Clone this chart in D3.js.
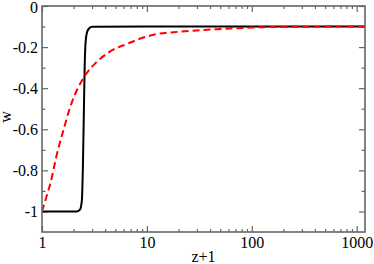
<!DOCTYPE html>
<html>
<head>
<meta charset="utf-8">
<script src="https://cdn.jsdelivr.net/npm/d3@7/dist/d3.min.js"></script>
<style>
html,body{margin:0;padding:0;background:#fff;}
svg{display:block;}
svg text{font-family:"Liberation Serif","Times New Roman",Times,serif;}
</style>
</head>
<body>
<svg id="chart" width="374" height="264"></svg>
<script>
// Black solid curve (z+1, w)
const blackX = [1, 2.15, 2.31, 2.40, 2.45, 2.50, 2.55, 2.60, 2.68, 2.82, 3.0, 10, 100, 1200];
const blackW = [-1, -1, -0.99, -0.945, -0.80, -0.55, -0.30, -0.18, -0.13, -0.108, -0.101, -0.1, -0.1, -0.1];
// Red dashed curve (z+1, w)
const redX = [1, 1.1, 1.2, 1.39, 1.6, 1.86, 2.15, 2.58, 3.33, 4.4, 6.66, 8.3, 12.4, 20.6, 50, 100, 300, 1200];
const redW = [-1, -0.93, -0.865, -0.719, -0.605, -0.491, -0.41, -0.337, -0.272, -0.223, -0.182, -0.162, -0.137, -0.125, -0.112, -0.105, -0.101, -0.1];
// Ticks
const xMajor = [1, 10, 100, 1000];
const xMinor = [2,3,4,5,6,7,8,9,20,30,40,50,60,70,80,90,200,300,400,500,600,700,800,900];
const yMajor = [0, -0.2, -0.4, -0.6, -0.8, -1];
const yMinor = [-0.1, -0.3, -0.5, -0.7, -0.9];
const xLabel = "z+1";
const yLabel = "w";

const FONT = '"Liberation Serif","Times New Roman",Times,serif';
const svg = d3.select("#chart");
const L = 42, R = 365, T = 6, B = 232;
const x = d3.scaleLog().domain([1, 1200]).range([L, R]);
const y = d3.scaleLinear().domain([-1.1, 0]).range([B, T]);
const axisColor = "#666";
const fs = 16;

function styleAxis(g){
  g.attr("font-family", FONT);
  g.select(".domain").remove();
  g.selectAll(".tick line").attr("stroke", axisColor).attr("stroke-width", 1.2);
  g.selectAll(".tick text").attr("fill", "#000").attr("font-size", fs).attr("font-family", FONT);
}
const fmtY = d => d === 0 ? "0" : (d === -1 ? "-1" : d3.format(".1f")(d).replace("\u2212","-"));

// bottom
svg.append("g").attr("transform", `translate(0,${B})`)
  .call(d3.axisBottom(x).tickValues(xMajor).tickSize(-6).tickSizeOuter(0).tickPadding(5).tickFormat(d3.format("d")))
  .call(styleAxis);
svg.append("g").attr("transform", `translate(0,${B})`)
  .call(d3.axisBottom(x).tickValues(xMinor).tickSize(-3).tickSizeOuter(0).tickFormat(""))
  .call(styleAxis);
// top
svg.append("g").attr("transform", `translate(0,${T})`)
  .call(d3.axisTop(x).tickValues(xMajor).tickSize(-6).tickSizeOuter(0).tickFormat(""))
  .call(styleAxis);
svg.append("g").attr("transform", `translate(0,${T})`)
  .call(d3.axisTop(x).tickValues(xMinor).tickSize(-3).tickSizeOuter(0).tickFormat(""))
  .call(styleAxis);
// left
const yAx = svg.append("g").attr("transform", `translate(${L},0)`)
  .call(d3.axisLeft(y).tickValues(yMajor).tickSize(-6).tickSizeOuter(0).tickPadding(4).tickFormat(fmtY))
  .call(styleAxis);
yAx.selectAll(".tick text").filter(d => d === 0).attr("dy", "0.42em");
svg.append("g").attr("transform", `translate(${L},0)`)
  .call(d3.axisLeft(y).tickValues(yMinor).tickSize(-3.5).tickSizeOuter(0).tickFormat(""))
  .call(styleAxis);
// right
svg.append("g").attr("transform", `translate(${R},0)`)
  .call(d3.axisRight(y).tickValues(yMajor).tickSize(-6).tickSizeOuter(0).tickFormat(""))
  .call(styleAxis);
svg.append("g").attr("transform", `translate(${R},0)`)
  .call(d3.axisRight(y).tickValues(yMinor).tickSize(-3.5).tickSizeOuter(0).tickFormat(""))
  .call(styleAxis);

// lines
const line = d3.line().x(d => x(d[0])).y(d => y(d[1])).curve(d3.curveMonotoneX);
svg.append("clipPath").attr("id","clip").append("rect")
  .attr("x", L).attr("y", T-2).attr("width", R-L).attr("height", B-T+2);
svg.append("path").datum(blackX.map((v,i)=>[v, blackW[i]]))
  .attr("d", line).attr("fill","none").attr("stroke","#000").attr("stroke-width",2)
  .attr("clip-path","url(#clip)");
svg.append("path").datum(redX.map((v,i)=>[v, redW[i]]))
  .attr("d", line).attr("fill","none").attr("stroke","#ff0000").attr("stroke-width",2)
  .attr("stroke-dasharray","7,4").attr("clip-path","url(#clip)");

// frame
svg.append("rect").attr("x", L).attr("y", T).attr("width", R-L).attr("height", B-T)
  .attr("fill","none").attr("stroke", axisColor).attr("stroke-width", 1.6);

// labels
svg.append("text").attr("x", (L+R)/2).attr("y", 262).attr("text-anchor","middle")
  .attr("font-family", FONT).attr("font-size", fs).text(xLabel);
svg.append("text").attr("transform", "translate(11,117) rotate(-90)").attr("text-anchor","middle")
  .attr("font-family", FONT).attr("font-size", fs).text(yLabel);
</script>
</body>
</html>
